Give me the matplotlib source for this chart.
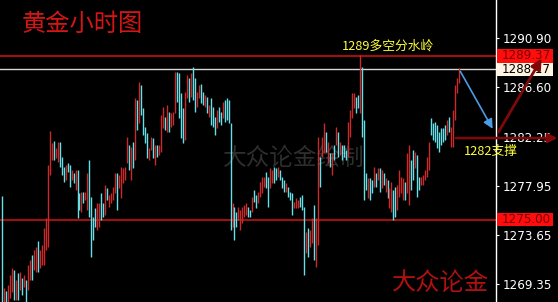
"""
黄金小时图 - 复刻 K 线截图 (MT4 风格, 黑底)
"""
import matplotlib
matplotlib.use("Agg")
import matplotlib.pyplot as plt
import matplotlib.transforms as mtransforms
from matplotlib.patches import Rectangle

CJK = ["Noto Sans CJK SC", "DejaVu Sans"]

# ---------- 数据 (从截图读取的每根小时K线 高/低, u=阳 d=阴) ----------
highs = [
    1277.07, 1269.0, 1268.73, 1269.26, 1270.14, 1270.75, 1270.6, 1269.7, 1270.3, 1270.4,
    1269.9, 1270.15, 1269.7, 1271.0, 1271.45, 1271.9, 1272.3, 1272.6, 1273.1, 1272.3,
    1272.8, 1274.25, 1275.1, 1279.8, 1282.77, 1281.7, 1281.9, 1281.3, 1281.8, 1281.8,
    1280.5, 1279.6, 1279.8, 1279.96, 1279.8, 1279.35, 1279.1, 1279.35, 1279.35, 1277.33,
    1277.4, 1277.4, 1277.4, 1279.1, 1280.2, 1277.0, 1275.2, 1276.0, 1276.45, 1276.45,
    1277.33, 1276.45, 1278.0, 1277.8, 1277.15, 1277.33, 1277.85, 1279.1, 1279.1, 1278.9,
    1279.6, 1279.5, 1279.6, 1282.25, 1281.54, 1281.4, 1281.8, 1285.66, 1285.5, 1287.07,
    1286.8, 1284.8, 1283.1, 1282.6, 1281.3, 1282.25, 1282.16, 1281.54, 1281.54, 1281.54,
    1284.17, 1284.87, 1284.0, 1285.05, 1284.43, 1284.35, 1284.43, 1287.94, 1287.94, 1287.86,
    1286.1, 1284.8, 1286.19, 1287.68, 1287.4, 1287.86, 1288.38, 1287.4, 1286.19, 1286.8,
    1286.9, 1286.19, 1285.93, 1285.75, 1285.05, 1285.66, 1284.87, 1284.0, 1284.6, 1284.87,
    1284.43, 1285.3, 1285.5, 1285.66, 1285.5, 1283.47, 1276.45, 1276.1, 1275.66, 1276.1,
    1275.84, 1276.1, 1276.28, 1276.45, 1276.1, 1275.84, 1276.98, 1277.6, 1277.15, 1277.4,
    1278.3, 1278.73, 1278.73, 1279.17, 1278.73, 1279.5, 1279.35, 1279.6, 1279.5, 1279.6,
    1279.35, 1278.73, 1278.47, 1278.2, 1277.85, 1277.4, 1277.33, 1276.54, 1276.9, 1276.7,
    1276.98, 1277.15, 1276.1, 1273.9, 1274.26, 1274.1, 1275.1, 1276.28, 1275.1, 1282.25,
    1280.5, 1282.25, 1283.47, 1282.68, 1281.8, 1280.84, 1280.84, 1281.54, 1283.1, 1282.68,
    1281.8, 1281.54, 1281.54, 1281.1, 1283.56, 1284.6, 1286.1, 1286.1, 1285.75, 1285.93,
    1289.44, 1288.38, 1283.73, 1279.1, 1278.65, 1278.65, 1278.47, 1279.6, 1279.1, 1279.5,
    1279.5, 1279.35, 1279.1, 1278.65, 1278.47, 1277.77, 1278.3, 1277.6, 1277.85, 1278.03,
    1279.35, 1278.73, 1278.65, 1278.3, 1280.84, 1281.54, 1280.2, 1281.1, 1280.93, 1280.66,
    1278.73, 1278.73, 1278.9, 1279.35, 1280.5, 1281.8, 1283.9, 1283.47, 1283.56, 1283.3,
    1282.68, 1283.03, 1283.03, 1283.3, 1283.73, 1284.0, 1283.1, 1284.6, 1286.8, 1287.42,
    1288.3,
]
lows = [
    1267.6, 1267.6, 1267.6, 1267.6, 1268.1, 1268.65, 1267.95, 1267.95, 1267.95, 1268.8,
    1268.4, 1269.1, 1267.6, 1268.8, 1269.7, 1269.7, 1270.6, 1270.4, 1270.4, 1270.75,
    1271.0, 1271.0, 1272.35, 1272.6, 1278.9, 1280.2, 1280.2, 1280.4, 1280.05, 1279.6,
    1278.9, 1278.3, 1278.5, 1279.2, 1277.85, 1278.5, 1278.2, 1277.6, 1275.1, 1275.8,
    1275.66, 1276.45, 1276.7, 1275.8, 1275.2, 1271.7, 1273.2, 1274.35, 1274.1, 1274.35,
    1274.96, 1275.2, 1275.4, 1276.7, 1276.1, 1276.45, 1276.7, 1277.33, 1275.8, 1277.8,
    1276.9, 1278.2, 1278.5, 1279.96, 1279.35, 1278.5, 1279.5, 1280.2, 1282.85, 1283.5,
    1284.17, 1282.4, 1281.7, 1280.4, 1280.2, 1281.1, 1280.4, 1279.8, 1280.5, 1280.66,
    1280.9, 1283.0, 1282.85, 1282.68, 1282.68, 1283.1, 1283.3, 1284.35, 1285.3, 1283.9,
    1282.16, 1281.7, 1281.98, 1285.66, 1285.3, 1285.75, 1285.5, 1284.43, 1284.87, 1285.66,
    1285.2, 1285.05, 1284.87, 1284.35, 1284.0, 1283.3, 1283.1, 1282.4, 1283.0, 1283.56,
    1283.3, 1283.9, 1283.56, 1283.73, 1283.47, 1274.1, 1274.35, 1273.2, 1274.35, 1274.96,
    1274.1, 1274.7, 1275.22, 1275.4, 1275.22, 1275.22, 1275.66, 1276.54, 1276.0, 1276.45,
    1276.98, 1277.33, 1277.85, 1277.77, 1276.1, 1277.77, 1278.2, 1278.2, 1278.47, 1278.73,
    1278.47, 1277.77, 1277.4, 1277.4, 1276.98, 1276.7, 1275.4, 1276.0, 1276.0, 1276.0,
    1276.1, 1275.84, 1270.14, 1272.07, 1271.7, 1272.6, 1272.95, 1271.45, 1270.84, 1272.77,
    1277.85, 1280.5, 1280.84, 1280.93, 1279.96, 1279.6, 1278.9, 1280.2, 1281.54, 1280.5,
    1280.66, 1280.2, 1280.5, 1280.2, 1280.5, 1282.25, 1283.9, 1284.8, 1284.35, 1284.8,
    1284.35, 1282.25, 1276.72, 1277.6, 1276.9, 1276.72, 1277.33, 1277.85, 1277.85, 1278.47,
    1277.4, 1277.77, 1278.03, 1277.4, 1276.9, 1276.0, 1275.66, 1274.96, 1275.22, 1275.84,
    1276.98, 1277.33, 1276.72, 1276.72, 1277.33, 1276.28, 1277.6, 1278.47, 1279.5, 1276.98,
    1277.6, 1278.03, 1278.03, 1278.47, 1278.73, 1279.35, 1282.42, 1281.98, 1281.8, 1281.28,
    1280.93, 1281.54, 1281.8, 1281.98, 1282.42, 1282.68, 1281.36, 1281.36, 1283.73, 1286.1,
    1286.98,
]
# 每组 5 根
dirs = ("duduu ududu duduu duudu uuuuu uduud ddudd ududd uduud ddduu "
        "ddudu uuudu uuuud ududu ddddu ududu uudud uuudd dduud udduu "
        "ddudu dddud duddd duddu uuuud duddu uuudd uuddu dddud dduuu "
        "dddud uuduu duudu dudud udddu uuudd udddu ddudu dudud uuddu "
        "uuudu uddud duuuu udddd ddddu duuuu u").replace(" ", "")
idx = list(range(len(highs)))

# 右侧价格刻度和关键价位
yticks = [1290.90, 1286.60, 1282.25, 1277.95, 1273.65, 1269.35]
resist, last_px, support = 1289.37, 1288.17, 1275.00
support2 = 1282.15

fig = plt.figure(figsize=(5.58, 3.02), dpi=100, facecolor="black")
ax = fig.add_axes([0, 0, 496 / 558, 1])
ax.set_facecolor("black")

up_col, dn_col = "#cc2a2a", "#66dfe6"
cols = [up_col if c == "u" else dn_col for c in dirs]
ax.vlines(idx, lows, highs, colors=cols, lw=1.0, zorder=3)

ax.axhline(resist, color="#c80f0f", lw=1.2, zorder=2)
ax.axhline(last_px, color="#d8d8d8", lw=1.0, zorder=2)
ax.axhline(support, color="#c80f0f", lw=1.2, zorder=2)

ax.set_xlim(-1.0, 248.6)
ax.set_ylim(1267.77, 1294.26)
for s in ["left", "top", "bottom"]:
    ax.spines[s].set_visible(False)
ax.spines["right"].set_color("white")
ax.spines["right"].set_linewidth(1.0)
ax.xaxis.set_visible(False)
ax.yaxis.tick_right()
ax.set_yticks(yticks)
ax.set_yticklabels([f"{v:.2f}" for v in yticks])
ax.tick_params(axis="y", colors="white", direction="out", length=2.5, width=0.8,
               pad=2.5, labelsize=8.6)

# 价格标签框
bt = mtransforms.blended_transform_factory(fig.transFigure, ax.transData)
for val, bg, fg in [(resist, "#ff0d0d", "#7a0000"), (last_px, "#fff4e2", "black"),
                    (support, "#ff0d0d", "#7a0000")]:
    ax.add_patch(Rectangle((497 / 558, val - 0.6), 56 / 558, 1.2, transform=bt,
                           facecolor=bg, edgecolor="none", clip_on=False, zorder=6))
    ax.text(502 / 558, val, f"{val:.2f}", transform=bt, color=fg, fontsize=8.6,
            va="center", ha="left", zorder=7, clip_on=False)

# 箭头
ax.annotate("", xy=(247.6, 1282.75), xytext=(230.0, 1288.2),
            arrowprops=dict(arrowstyle="-|>", color="#4a9be8", lw=1.2, mutation_scale=14),
            annotation_clip=False, zorder=8)
ax.annotate("", xy=(272.3, 1289.35), xytext=(249.1, 1282.45),
            arrowprops=dict(arrowstyle="-|>", color="#800808", lw=2.0, mutation_scale=16),
            annotation_clip=False, zorder=8)
ax.annotate("", xy=(279.5, support2), xytext=(227.0, support2),
            arrowprops=dict(arrowstyle="-|>", color="#800808", lw=1.8, mutation_scale=14,
                            shrinkB=0),
            annotation_clip=False, zorder=8)

# 文字
ax.text(0.165, 0.92, "黄金小时图", transform=ax.transAxes, color="#d41515",
        fontsize=17.5, family=CJK, ha="center", va="center", zorder=9)
ax.text(0.593, 0.475, "大众论金绘制", transform=ax.transAxes, color="#2e2e2e",
        fontsize=17, family=CJK, ha="center", va="center", zorder=1)
ax.text(0.889, 0.063, "大众论金", transform=ax.transAxes, color="#b01010",
        fontsize=17.5, family=CJK, ha="center", va="center", zorder=9)
ax.text(194.0, 1290.2, "1289多空分水岭", color="#ffff3c", fontsize=9.2,
        family=CJK, ha="center", va="center", zorder=9)
ax.text(246.0, 1280.93, "1282支撑", color="#ffff3c", fontsize=9.2,
        family=CJK, ha="center", va="center", zorder=9, clip_on=False)

fig.savefig("out.png", dpi=100, facecolor="black")
